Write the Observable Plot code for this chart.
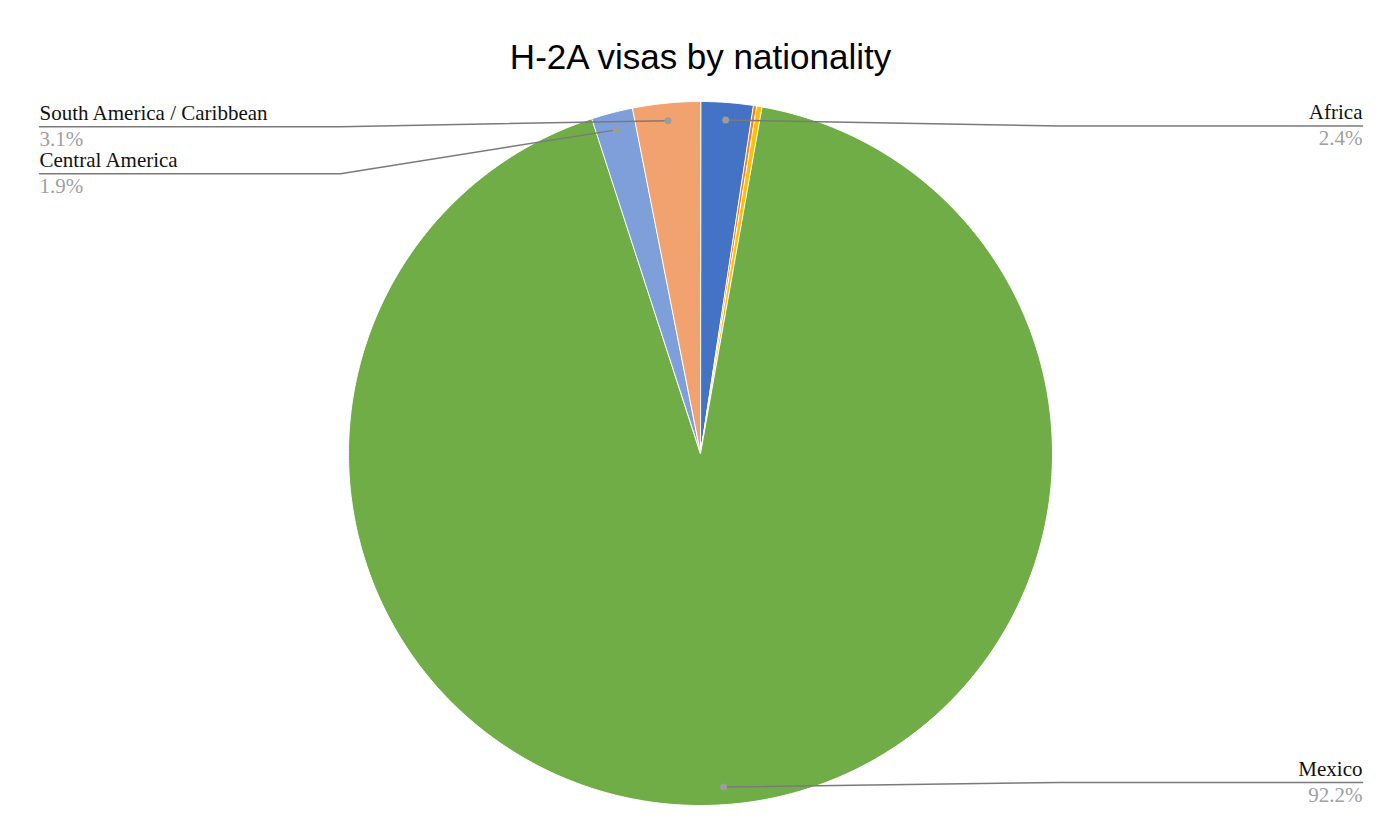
<!DOCTYPE html>
<html>
<head>
<meta charset="utf-8">
<script src="https://cdn.jsdelivr.net/npm/d3@7"></script>
<script src="https://cdn.jsdelivr.net/npm/@observablehq/plot@0.6"></script>
<style>
  html, body { margin: 0; padding: 0; background: #fff; }
  #chart svg { display: block; }
</style>
</head>
<body>
<div id="chart"></div>
<script>
// ---- Data ----
const regions = ["Africa", "Asia", "Europe / Oceania", "Mexico", "Central America", "South America / Caribbean"];
const shares = [2.4, 0.15, 0.25, 92.2, 1.9, 3.1];
const colors = ["#4472C4", "#ED7D31", "#FFC000", "#70AD47", "#7E9FD9", "#F1A26F"];
const labelled = ["Africa", "Mexico", "Central America", "South America / Caribbean"];
const title = "H-2A visas by nationality";

// ---- Layout ----
const W = 1400, H = 840;
const cx = 700, cy = 453, R = 352;
const labelLeftX = 39, labelRightX = 1362, elbowGap = 8, lineGap = 47;

const data = regions.map((name, i) => ({name, share: shares[i], color: colors[i]}));
const arcs = d3.pie().sort(null).value(d => d.share)(data);
const pt = (a, r) => ({x: cx + r * Math.sin(a), y: cy - r * Math.cos(a)});

// slice polygons
const slicePts = [];
arcs.forEach(a => {
  const n = Math.max(2, Math.ceil((a.endAngle - a.startAngle) / (Math.PI / 360)));
  slicePts.push({...pt(0, 0), name: a.data.name, color: a.data.color});
  for (let k = 0; k <= n; k++) {
    const ang = a.startAngle + (a.endAngle - a.startAngle) * k / n;
    slicePts.push({...pt(ang, R), name: a.data.name, color: a.data.color});
  }
});

// labels
const labs = arcs.filter(a => labelled.includes(a.data.name)).map(a => {
  const mid = (a.startAngle + a.endAngle) / 2;
  const d = pt(mid, R * 0.95);
  const right = Math.sin(mid) >= 0;
  return {name: a.data.name, share: a.data.share, dot: d, right, lineY: d.y + 6};
});
for (const side of [true, false]) {
  const s = labs.filter(l => l.right === side).sort((a, b) => a.dot.y - b.dot.y);
  let prev = -Infinity;
  for (const l of s) {
    l.lineY = Math.max(l.lineY, prev + lineGap);
    l.lineY = Math.min(l.lineY, H - 58);
    prev = l.lineY;
  }
}
const leaderPts = [];
labs.forEach(l => {
  const ex = l.right ? cx + R + elbowGap : cx - R - elbowGap;
  const endX = l.right ? labelRightX : labelLeftX;
  leaderPts.push({x: l.dot.x, y: l.dot.y, name: l.name});
  leaderPts.push({x: ex, y: l.lineY, name: l.name});
  leaderPts.push({x: endX, y: l.lineY, name: l.name});
});
const labText = labs.map(l => ({
  x: l.right ? labelRightX : labelLeftX,
  y: l.lineY,
  anchor: l.right ? "end" : "start",
  name: l.name,
  pct: l.share.toFixed(1) + "%"
}));

const serif = "'Liberation Serif', 'Times New Roman', serif";
const leftT = labText.filter(d => d.anchor === "start");
const rightT = labText.filter(d => d.anchor === "end");

const chart = Plot.plot({
  width: W,
  height: H,
  margin: 0,
  x: {domain: [0, W], range: [0, W], axis: null},
  y: {domain: [0, H], range: [0, H], axis: null},
  color: {type: "identity"},
  marks: [
    Plot.line(slicePts, {x: "x", y: "y", z: "name", fill: "color", stroke: "white", strokeWidth: 1, curve: "linear-closed"}),
    Plot.line(leaderPts, {x: "x", y: "y", z: "name", stroke: "#7a7a7a", strokeWidth: 1.5}),
    Plot.dot(labs, {x: d => d.dot.x, y: d => d.dot.y, r: 3.5, fill: "#9c9c9c", stroke: "none"}),
    Plot.text(leftT, {x: "x", y: "y", text: "name", textAnchor: "start", lineAnchor: "bottom", dy: -7, fontFamily: serif, fontSize: 21, fill: "#111"}),
    Plot.text(rightT, {x: "x", y: "y", text: "name", textAnchor: "end", lineAnchor: "bottom", dy: -7, fontFamily: serif, fontSize: 21, fill: "#111"}),
    Plot.text(leftT, {x: "x", y: "y", text: "pct", textAnchor: "start", lineAnchor: "bottom", dy: 19, fontFamily: serif, fontSize: 21, fill: "#a0a0a0"}),
    Plot.text(rightT, {x: "x", y: "y", text: "pct", textAnchor: "end", lineAnchor: "bottom", dy: 19, fontFamily: serif, fontSize: 21, fill: "#a0a0a0"}),
    Plot.text([title], {x: () => W / 2, y: () => 68, text: d => d, textAnchor: "middle", lineAnchor: "bottom", fontFamily: "'Liberation Sans', Arial, sans-serif", fontSize: 35, fill: "#000"})
  ]
});
document.getElementById("chart").appendChild(chart);
</script>
</body>
</html>
